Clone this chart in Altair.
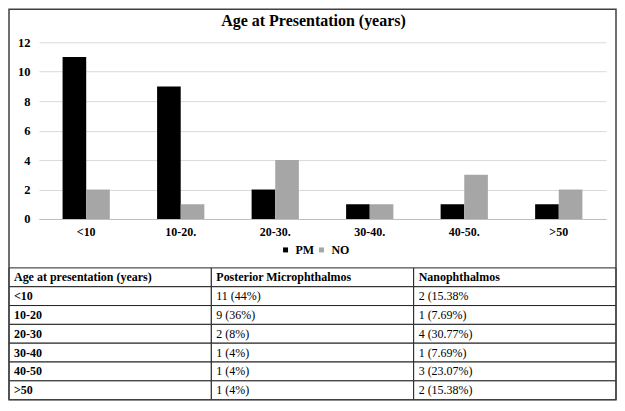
import altair as alt
import pandas as pd

# ---------------- data ----------------
age_groups = ["<10", "10-20.", "20-30.", "30-40.", "40-50.", ">50"]
pm_counts = [11, 9, 2, 1, 1, 1]
no_counts = [2, 1, 4, 1, 3, 2]
series_names = ["PM", "NO"]
series_colors = ["#000000", "#a6a6a6"]
y_ticks = [0, 2, 4, 6, 8, 10, 12]

title_text = "Age at Presentation (years)"
table_header = ["Age at presentation (years)", "Posterior Microphthalmos", "Nanophthalmos"]
table_ages = ["<10", "10-20", "20-30", "30-40", "40-50", ">50"]
table_pm = ["11 (44%)", "9 (36%)", "2 (8%)", "1 (4%)", "1 (4%)", "1 (4%)"]
table_no = ["2 (15.38%", "1 (7.69%)", "4 (30.77%)", "1 (7.69%)", "3 (23.07%)", "2 (15.38%)"]

FONT = "Liberation Serif"

# ---------------- tables for the library ----------------
bar_rows = []
for g, p, n in zip(age_groups, pm_counts, no_counts):
    bar_rows.append({"age": g, "series": "PM", "count": p})
    bar_rows.append({"age": g, "series": "NO", "count": n})
bar_df = pd.DataFrame(bar_rows)

row_ids = ["r%d" % i for i in range(7)]
col_ids = ["c0", "c1", "c2"]
cell_rows = []
for ci, txt in enumerate(table_header):
    cell_rows.append({"row": "r0", "col": col_ids[ci], "text": txt, "bold": 1})
for ri, (a, p, n) in enumerate(zip(table_ages, table_pm, table_no)):
    rid = row_ids[ri + 1]
    cell_rows.append({"row": rid, "col": "c0", "text": a, "bold": 1})
    cell_rows.append({"row": rid, "col": "c1", "text": p, "bold": 0})
    cell_rows.append({"row": rid, "col": "c2", "text": n, "bold": 0})
table_df = pd.DataFrame(cell_rows)

one_df = pd.DataFrame({"title": [title_text]})

PLOT_W, PLOT_H = 568, 177
FL, FR, FT, FB = -30, 578, -33, 358   # outer frame, relative to plot origin
TBL_TOP = 226

# ---------------- bar chart ----------------
bars = alt.Chart(bar_df).mark_bar().encode(
    x=alt.X(
        "age:N", sort=age_groups,
        scale=alt.Scale(paddingInner=0.5, paddingOuter=0.25),
        axis=alt.Axis(title=None, labelAngle=0, ticks=False, grid=False,
                      domainColor="#bfbfbf", domainWidth=1.2, labelPadding=8,
                      labelFont=FONT, labelFontSize=12, labelFontWeight="bold",
                      labelColor="#000000"),
    ),
    xOffset=alt.XOffset("series:N", sort=series_names,
                        scale=alt.Scale(paddingInner=0, paddingOuter=0)),
    y=alt.Y(
        "count:Q",
        scale=alt.Scale(domain=[0, 12], nice=False),
        axis=alt.Axis(title=None, values=y_ticks, domain=False, ticks=False,
                      gridColor="#d9d9d9", gridWidth=1, labelPadding=9,
                      labelFont=FONT, labelFontSize=12.5, labelFontWeight="bold",
                      labelColor="#000000"),
    ),
    color=alt.Color(
        "series:N", sort=series_names,
        scale=alt.Scale(domain=series_names, range=series_colors),
        legend=alt.Legend(orient="none", legendX=241, legendY=202,
                          direction="horizontal", title=None,
                          symbolType="square", symbolSize=25,
                          symbolStrokeWidth=0, labelOffset=4, columnPadding=1,
                          labelFont=FONT, labelFontSize=12,
                          labelFontWeight="bold", labelColor="#000000"),
    ),
)

# ---------------- table ----------------
tbl_scale_x = alt.Scale(domain=col_ids, range=[FL, FR], paddingInner=0, paddingOuter=0)
tbl_scale_y = alt.Scale(domain=row_ids, range=[TBL_TOP, FB], paddingInner=0, paddingOuter=0)

cells = alt.Chart(table_df).mark_rect(fill="#ffffff", stroke="#222222", strokeWidth=1).encode(
    x=alt.X("col:N", scale=tbl_scale_x, axis=None),
    y=alt.Y("row:N", scale=tbl_scale_y, axis=None),
)

def table_text(bold_flag, weight):
    return alt.Chart(table_df).transform_filter(
        "datum.bold == %d" % bold_flag
    ).mark_text(align="left", baseline="middle", dx=5, font=FONT,
                fontSize=12, fontWeight=weight, color="#000000").encode(
        x=alt.X("col:N", scale=tbl_scale_x, axis=None, bandPosition=0),
        y=alt.Y("row:N", scale=tbl_scale_y, axis=None),
        text="text:N",
    )

table = alt.layer(cells, table_text(1, "bold"), table_text(0, "normal"))

# ---------------- title & frame ----------------
title = alt.Chart(one_df).mark_text(
    font=FONT, fontSize=16, fontWeight="bold", align="center",
    baseline="middle", color="#000000"
).encode(x=alt.value(275), y=alt.value(-21), text="title:N")

frame = alt.Chart(one_df).mark_rect(
    fillOpacity=0, stroke="#404040", strokeWidth=1.5
).encode(x=alt.value(FL), x2=alt.value(FR), y=alt.value(FT), y2=alt.value(FB))

chart = alt.layer(bars, table, title, frame).resolve_scale(
    x="independent", y="independent"
).properties(
    width=PLOT_W, height=PLOT_H, padding=0, background="#ffffff"
).configure(
    font=FONT
).configure_view(stroke=None).configure_axis(
    labelFont=FONT
).configure_legend(labelFont=FONT)

chart.save("out.html", embed_options={"renderer": "svg", "actions": False})
